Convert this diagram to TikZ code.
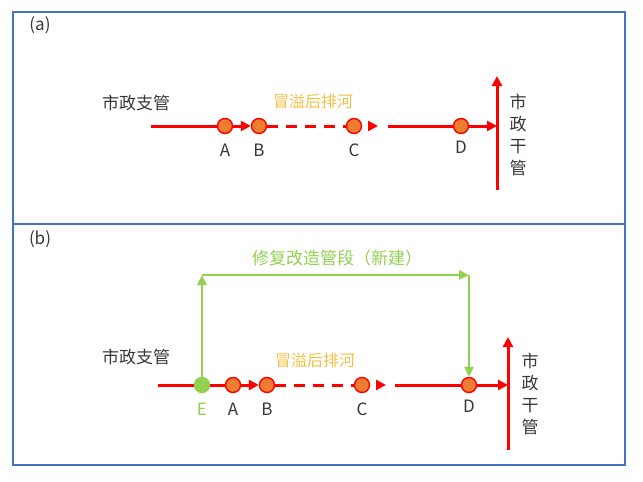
\documentclass[tikz,border=0pt]{standalone}
\usepackage{fontspec}
\setmainfont{Noto Sans CJK SC}
\usetikzlibrary{arrows.meta}
\definecolor{pipered}{RGB}{255,0,0}
\definecolor{nodeorange}{RGB}{237,125,49}
\definecolor{labelgold}{RGB}{245,192,66}
\definecolor{newgreen}{RGB}{146,208,80}
\definecolor{frameblue}{RGB}{68,114,196}
\definecolor{textgray}{RGB}{55,55,55}
\tikzset{
  pipe/.style={draw=pipered, line width=3pt},
  tip/.style={-{Triangle[length=10pt,width=10pt]}},
  gtip/.style={-{Triangle[length=10pt,width=9pt]}},
  dashpipe/.style={pipe, dash pattern=on 11pt off 8pt},
  tiponly/.style={pipe, dash pattern=on 0pt off 60pt, tip},
  station/.style={circle, draw=pipered, fill=nodeorange, line width=1.4pt, minimum size=15pt, inner sep=0pt},
  estation/.style={circle, draw=newgreen, fill=newgreen, line width=1.4pt, minimum size=15pt, inner sep=0pt},
  greenpipe/.style={draw=newgreen, line width=2.8pt, gtip},
  lbl/.style={text=textgray, font=\fontsize{17}{19}\selectfont, inner sep=0pt},
  cn/.style={text=textgray, font=\fontsize{17}{20}\selectfont, inner sep=0pt},
  vcn/.style={text=textgray, font=\fontsize{17}{22}\selectfont, inner sep=0pt, align=center},
  gold/.style={text=labelgold, font=\fontsize{16}{18}\selectfont, inner sep=0pt},
  glabel/.style={text=newgreen, font=\fontsize{17}{20}\selectfont, inner sep=0pt},
  panel/.style={draw=frameblue, line width=1.3pt}
}
\begin{document}
\begin{tikzpicture}[x=1pt,y=-1pt]
\useasboundingbox (0,0) rectangle (643,482);
% frame
\draw[panel] (13,12) rectangle (625,465);
\coordinate (ml) at (13,224);
\coordinate (mr) at (625,224);
\draw[panel] (ml) -- (mr);
\node[lbl] (pa) at (40,25) {(a)};
\node[lbl] (pb) at (40,239) {(b)};

% ---------- panel (a)
\node[cn] (zga) at (136,103) {市政支管};
\node[gold] (ya) at (313,101) {冒溢后排河};
\coordinate (a0) at (151,126);
\node[station] (A) at (225,126) {};
\node[station] (B) at (259,126) {};
\node[station] (C) at (354,126) {};
\coordinate (ac) at (378,126);
\coordinate (ad) at (388,126);
\node[station] (D) at (461,126) {};
\coordinate (aj) at (497,126);
\coordinate (avb) at (497,190);
\coordinate (avt) at (497,76);
\draw[pipe] (a0) -- (A);
\draw[pipe,tip] (A) -- (B);
\draw[dashpipe] (B) -- (C);
\draw[tiponly] (C) -- (ac);
\draw[pipe] (ad) -- (D);
\draw[pipe,tip] (D) -- (aj);
\draw[pipe,tip] (avb) -- (avt);
\node[lbl] (la) at (225,150) {A};
\node[lbl] (lb) at (259,150) {B};
\node[lbl] (lc) at (354,150) {C};
\node[lbl] (ld) at (461,147) {D};
\node[vcn] (gga) at (518,135) {市\\政\\干\\管};

% ---------- panel (b)
\node[cn] (zgb) at (136,357) {市政支管};
\node[gold] (yb) at (315,360) {冒溢后排河};
\node[glabel] (xf) at (337,258) {修复改造管段（新建）};
\coordinate (b0) at (158,385);
\node[estation] (E) at (202,385) {};
\node[station] (A2) at (233,385) {};
\node[station] (B2) at (267,385) {};
\node[station] (C2) at (362,385) {};
\coordinate (bc) at (386,385);
\coordinate (bd) at (395,385);
\node[station] (D2) at (469,385) {};
\coordinate (bj) at (508,385);
\coordinate (bvb) at (508,450);
\coordinate (bvt) at (508,337);
\draw[pipe] (b0) -- (E);
\draw[pipe] (E) -- (A2);
\draw[pipe,tip] (A2) -- (B2);
\draw[dashpipe] (B2) -- (C2);
\draw[tiponly] (C2) -- (bc);
\draw[pipe] (bd) -- (D2);
\draw[pipe,tip] (D2) -- (bj);
\draw[pipe,tip] (bvb) -- (bvt);
\coordinate (g1) at (202,275);
\coordinate (g2) at (469,275);
\draw[greenpipe] (E) -- (g1);
\draw[greenpipe] (g1) -- (g2);
\draw[greenpipe] (g2) -- (D2);
\node[glabel, font=\fontsize{17}{19}\selectfont] (le) at (202,409) {E};
\node[lbl] (la2) at (233,409) {A};
\node[lbl] (lb2) at (267,409) {B};
\node[lbl] (lc2) at (362,409) {C};
\node[lbl] (ld2) at (469,406) {D};
\node[vcn] (ggb) at (530,394) {市\\政\\干\\管};
\end{tikzpicture}
\end{document}
